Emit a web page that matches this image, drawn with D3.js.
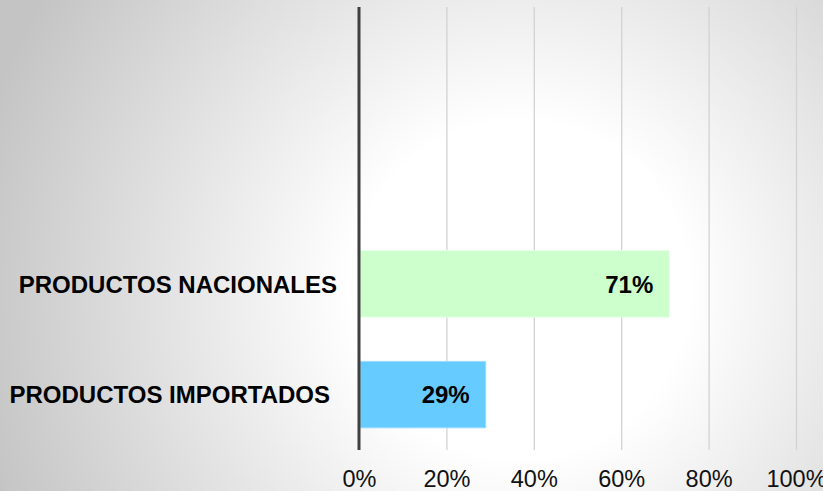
<!DOCTYPE html>
<html lang="es">
<head>
<meta charset="utf-8">
<title>Productos nacionales vs importados</title>
<script src="https://d3js.org/d3.v7.min.js"></script>
<style>
  body { margin: 0; }
  svg { display: block; font-family: "Liberation Sans", Arial, sans-serif; }
</style>
</head>
<body>
<svg id="chart"></svg>
<script>
// data
var categories = ["PRODUCTOS NACIONALES", "PRODUCTOS IMPORTADOS"];
var values = [0.71, 0.29];
var barColors = ["#ccffcc", "#66ccff"];
var tickValues = [0, 0.2, 0.4, 0.6, 0.8, 1];

var width = 823, height = 491;
var plot = {left: 359, right: 796, top: 7, bottom: 450};

var svg = d3.select("#chart").attr("width", width).attr("height", height);
var defs = svg.append("defs");

// radial background
var bg = defs.append("radialGradient")
  .attr("id", "bgGrad")
  .attr("gradientUnits", "userSpaceOnUse")
  .attr("cx", 520).attr("cy", 290).attr("r", 560);
bg.append("stop").attr("offset", "0").attr("stop-color", "#ffffff");
bg.append("stop").attr("offset", "0.3").attr("stop-color", "#ffffff");
bg.append("stop").attr("offset", "1").attr("stop-color", "#c4c4c4");

var gridGrad = defs.append("linearGradient")
  .attr("id", "gridGrad")
  .attr("gradientUnits", "userSpaceOnUse")
  .attr("x1", 0).attr("y1", plot.top).attr("x2", 0).attr("y2", plot.bottom);
gridGrad.append("stop").attr("offset", "0").attr("stop-color", "#d2d2d2");
gridGrad.append("stop").attr("offset", "1").attr("stop-color", "#8c8c8c");

svg.append("rect")
  .attr("width", width).attr("height", height)
  .attr("fill", "url(#bgGrad)");

var x = d3.scaleLinear()
  .domain([0, 1])
  .range([plot.left, plot.right]);

// the chart keeps room for two empty rows above the bars
var rowH = (plot.bottom - plot.top) / 4;
var y = d3.scaleBand()
  .domain(categories)
  .range([plot.bottom - 2 * rowH, plot.bottom])
  .paddingInner(0.4)
  .paddingOuter(0.2);

// grid lines + axis labels
var xAxis = d3.axisBottom(x)
  .tickValues(tickValues)
  .tickSize(-(plot.bottom - plot.top))
  .tickPadding(15)
  .tickFormat(d3.format(".0%"));

var gx = svg.append("g")
  .attr("transform", "translate(0," + plot.bottom + ")")
  .call(xAxis);
gx.select(".domain").remove();
gx.selectAll(".tick line")
  .attr("stroke", "url(#gridGrad)")
  .attr("stroke-width", 1.3)
  .filter(d => d === 0).remove();
gx.selectAll(".tick text")
  .attr("font-size", 23.5)
  .attr("font-family", "Liberation Sans, Arial, sans-serif")
  .attr("fill", "#111")
  .attr("dy", "0.95em");

// bars
svg.append("g").selectAll("rect")
  .data(categories)
  .join("rect")
  .attr("x", x(0) + 1)
  .attr("y", d => y(d))
  .attr("width", (d, i) => x(values[i]) - x(0) - 1)
  .attr("height", y.bandwidth())
  .attr("fill", (d, i) => barColors[i])
  .attr("stroke", (d, i) => i === 0 ? "#e4ffe4" : "#9ddcff")
  .attr("stroke-width", 1);

// value labels
svg.append("g").selectAll("text")
  .data(categories)
  .join("text")
  .attr("x", (d, i) => x(values[i]) - 16)
  .attr("y", d => y(d) + y.bandwidth() / 2)
  .attr("dy", "0.36em")
  .attr("text-anchor", "end")
  .attr("font-size", 24)
  .attr("font-weight", "bold")
  .attr("fill", "#000")
  .text((d, i) => d3.format(".0%")(values[i]));

// category labels (the lower one sits a little further left, as in the original)
svg.append("g").selectAll("text")
  .data(categories)
  .join("text")
  .attr("x", (d, i) => plot.left - 22 - i * 7)
  .attr("y", d => y(d) + y.bandwidth() / 2)
  .attr("dy", "0.36em")
  .attr("text-anchor", "end")
  .attr("font-size", 24)
  .attr("font-weight", "bold")
  .attr("fill", "#000")
  .text(d => d);

// zero axis
svg.append("line")
  .attr("x1", x(0)).attr("x2", x(0))
  .attr("y1", plot.top).attr("y2", plot.bottom)
  .attr("stroke", "#404040")
  .attr("stroke-width", 3);
</script>
</body>
</html>
